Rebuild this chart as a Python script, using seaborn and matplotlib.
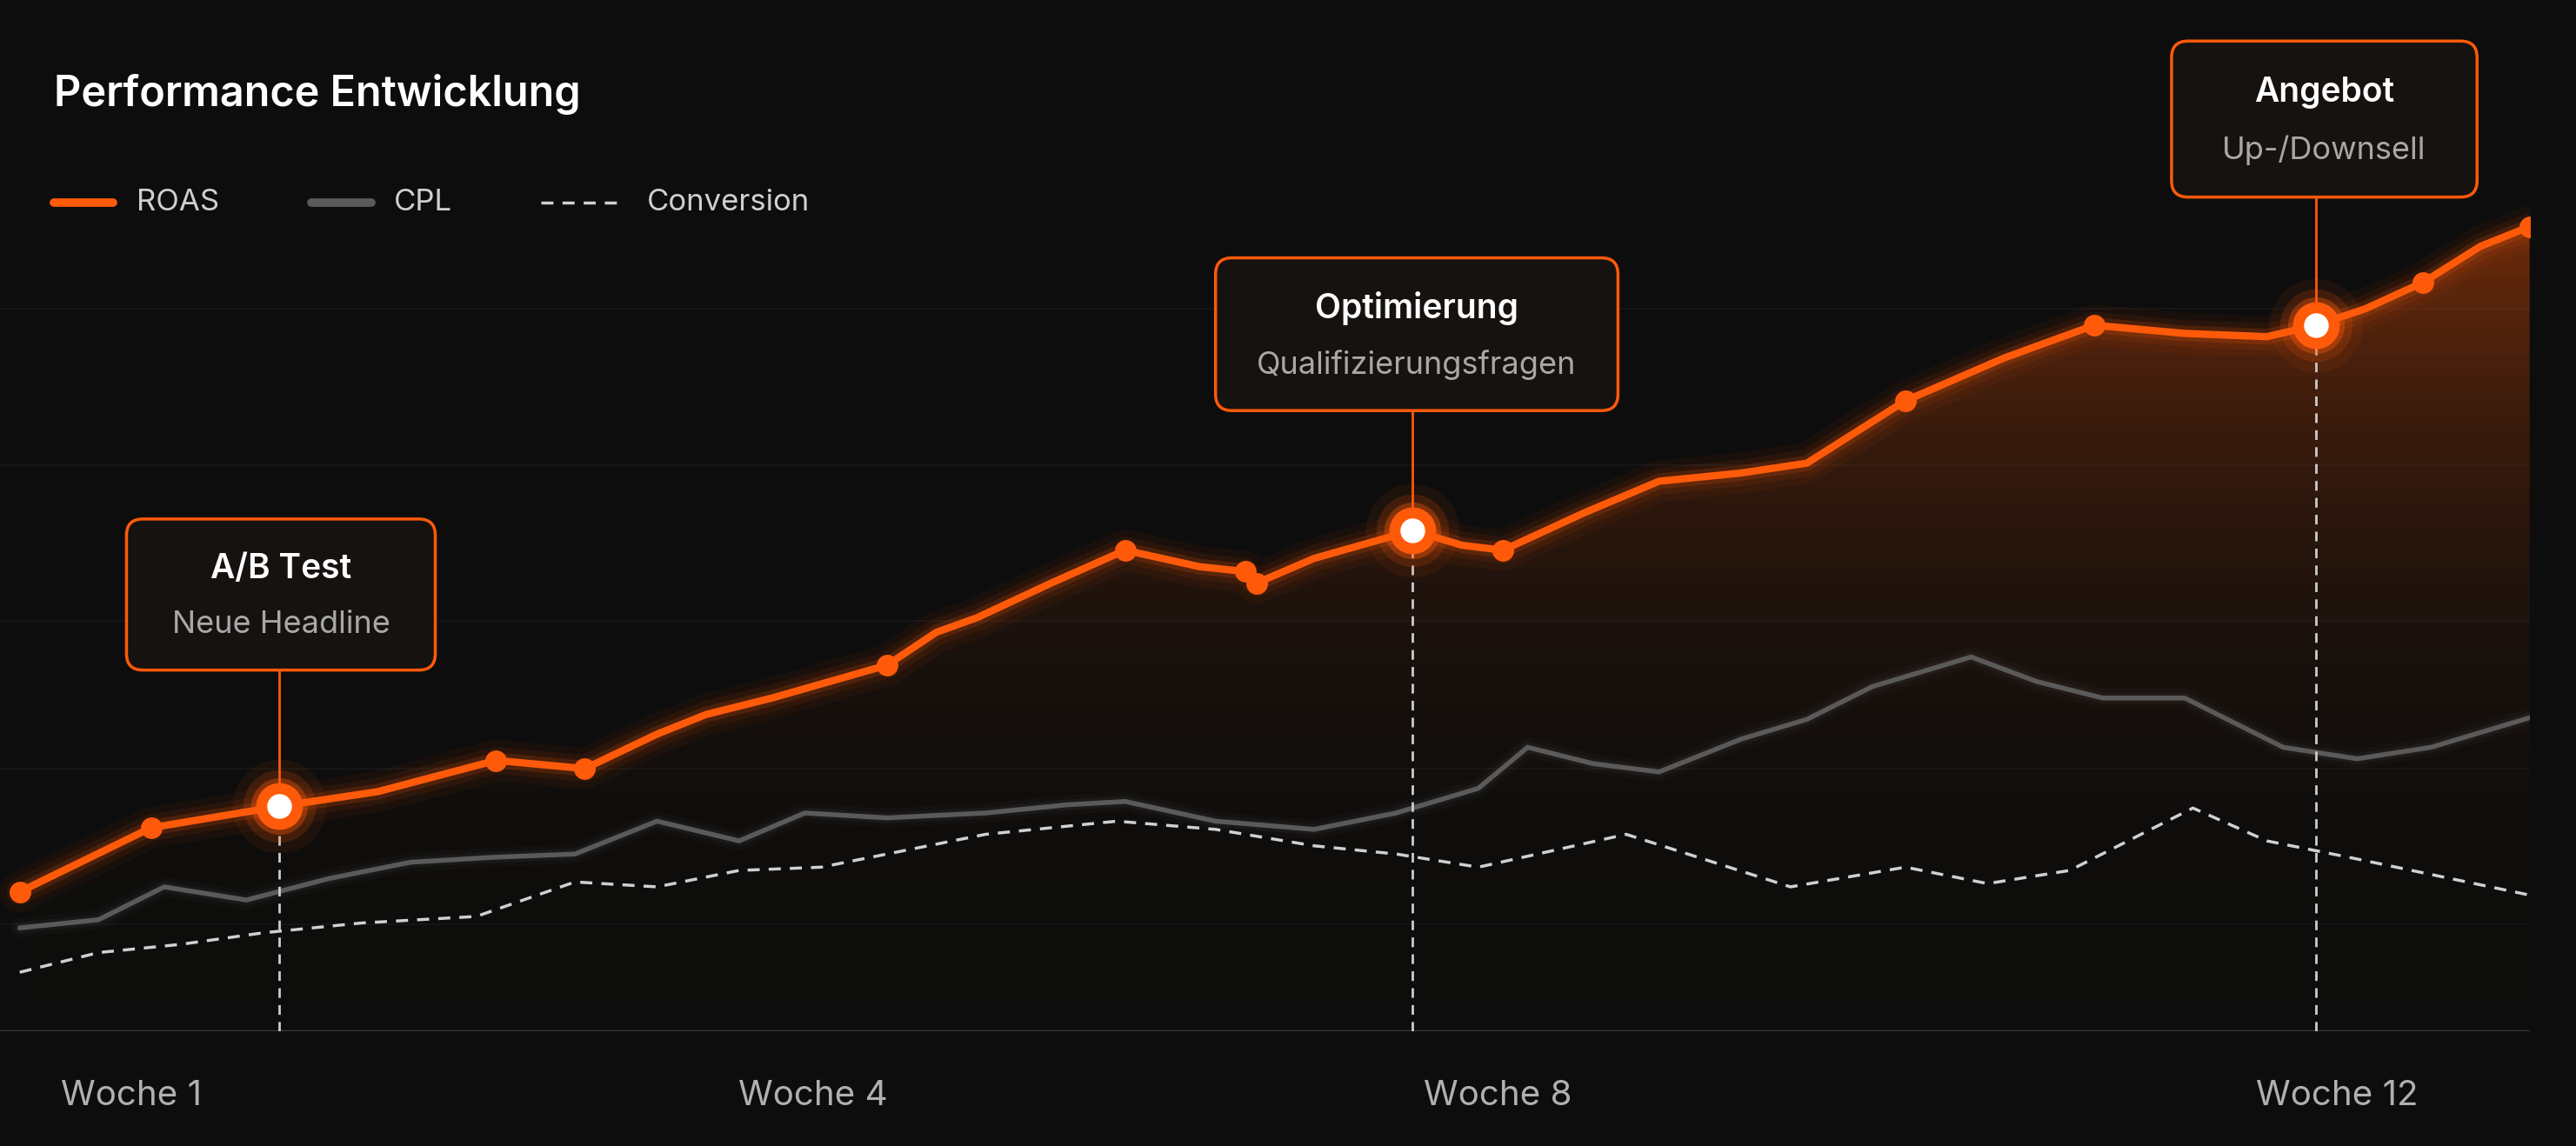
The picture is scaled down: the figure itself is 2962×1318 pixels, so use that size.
import numpy as np
import matplotlib.pyplot as plt
import seaborn as sns
from matplotlib.patches import FancyBboxPatch
from matplotlib.colors import LinearSegmentedColormap

# data (x in chart units, y = height above baseline)
roas_x = [12, 92, 170, 230, 302, 356, 400, 430, 470, 540, 570, 595, 640, 685, 730, 758, 765, 800, 860, 890, 915, 965, 1010, 1060, 1100, 1160, 1220, 1275, 1330, 1380, 1410, 1440, 1475, 1510, 1540]
roas_y = [85, 124, 137, 146, 165, 160, 181, 193, 203, 223, 243, 252, 273, 293, 283, 280, 273, 288, 305, 296, 293, 316, 335, 340, 346, 384, 410, 430, 425, 423, 430, 440, 456, 478, 490]
cpl_x = [12, 60, 100, 150, 200, 250, 300, 350, 400, 450, 490, 540, 600, 650, 685, 740, 800, 850, 900, 930, 970, 1010, 1060, 1100, 1140, 1200, 1240, 1280, 1330, 1390, 1435, 1480, 1540]
cpl_y = [63, 68, 88, 80, 93, 103, 106, 108, 128, 116, 133, 130, 133, 138, 140, 128, 123, 133, 148, 173, 163, 158, 178, 190, 210, 228, 213, 203, 203, 173, 166, 173, 191]
conv_x = [12, 60, 110, 160, 220, 290, 350, 400, 450, 500, 550, 600, 680, 740, 800, 850, 900, 990, 1090, 1160, 1210, 1260, 1335, 1380, 1430, 1540]
conv_y = [36, 48, 53, 60, 66, 70, 91, 88, 98, 100, 110, 120, 128, 123, 113, 108, 100, 120, 88, 100, 90, 98, 136, 116, 106, 83]
tick_pos = [80, 495, 912, 1423]
tick_labels = ["Woche 1", "Woche 4", "Woche 8", "Woche 12"]
events_x = [170, 860, 1410]
events_y = [137, 305, 430]
event_titles = ["A/B Test", "Optimierung", "Angebot"]
event_subs = ["Neue Headline", "Qualifizierungsfragen", "Up-/Downsell"]
small_dots = [12, 92, 302, 356, 540, 685, 758, 765, 915, 1160, 1275, 1475, 1540]

ORANGE = "#ff5a0a"
BG = "#0d0d0d"

sns.set_theme(style="dark")
plt.rcParams['font.family'] = ['Inter', 'DejaVu Sans']

fig = plt.figure(figsize=(29.62, 13.18), dpi=100, facecolor=BG)
ax = fig.add_axes([0, 0.1, 0.982, 0.9])
ax.set_facecolor(BG)
ax.set_xlim(0, 1540)
ax.set_ylim(0, 628)
for s in ax.spines.values():
    s.set_visible(False)

for gy in [65, 160, 250, 345, 440]:
    ax.axhline(gy, color="#151515", lw=1.5, zorder=0)
ax.axhline(0, color="#3a3a3a", lw=2.5, zorder=1)

# gradient fill under ROAS
grad = np.linspace(0, 1, 256).reshape(-1, 1) ** 1.3
cmap = LinearSegmentedColormap.from_list("g", [(0.05, 0.05, 0.05, 0), (1, 0.35, 0.04, 0.42)])
im = ax.imshow(grad, extent=[0, 1540, 0, 500], origin="lower", aspect="auto", cmap=cmap, zorder=1)
poly = ax.fill_between(roas_x, roas_y, 0, color="none")
im.set_clip_path(poly.get_paths()[0], transform=ax.transData)

# CPL and conversion
for w, a in [(16, 0.04), (9, 0.07)]:
    sns.lineplot(x=cpl_x, y=cpl_y, ax=ax, color="#888888", lw=w, alpha=a, zorder=2)
sns.lineplot(x=cpl_x, y=cpl_y, ax=ax, color="#5a5a5a", lw=4, zorder=3)
ax.plot(conv_x, conv_y, color="#d0d0d0", lw=2.5, ls=(0, (4, 3)), zorder=3)

# ROAS with glow
for w, a in [(34, 0.05), (22, 0.08), (13, 0.16)]:
    ax.plot(roas_x, roas_y, color=ORANGE, lw=w, alpha=a, solid_capstyle="round", zorder=4)
ax.plot(roas_x, roas_y, color=ORANGE, lw=6, zorder=5)
dot_y = np.interp(small_dots, roas_x, roas_y)
ax.scatter(small_dots, dot_y, s=320, color=ORANGE, zorder=6, linewidths=0)

# events
boxes = [(77, 220, 188, 92), (740, 378, 245, 93), (1322, 508, 186, 95)]
for ex, ey, t, sub, (bx, by, bw, bh) in zip(events_x, events_y, event_titles, event_subs, boxes):
    ax.plot([ex, ex], [0, ey], color="#cccccc", lw=2, ls=(0, (4, 3)), zorder=3)
    ax.plot([ex, ex], [ey, by], color=ORANGE, lw=2, zorder=3)
    for s, a in [(6000, 0.07), (3600, 0.16), (2200, 0.35)]:
        ax.scatter([ex], [ey], s=s, color=ORANGE, alpha=a, zorder=7, linewidths=0)
    ax.scatter([ex], [ey], s=1500, color=ORANGE, zorder=8, linewidths=0)
    ax.scatter([ex], [ey], s=420, color="white", zorder=9, linewidths=0)
    ax.add_patch(FancyBboxPatch((bx, by), bw, bh, boxstyle="round,pad=0,rounding_size=10",
                                fc="#161210", ec=ORANGE, lw=2.5, zorder=10))
    ax.text(bx + bw / 2, by + bh * 0.67, t, ha="center", va="center", color="white",
            fontsize=28, fontweight="semibold", zorder=11)
    ax.text(bx + bw / 2, by + bh * 0.30, sub, ha="center", va="center", color="#a8a8a8",
            fontsize=26, zorder=11)

ax.set_xticks(tick_pos)
ax.set_xticklabels(tick_labels, color="#b0b0b0", fontsize=29)
ax.tick_params(axis="x", length=0, pad=40)
ax.set_yticks([])
ax.set_xlabel("")

# title and legend
fig.text(0.021, 0.918, "Performance Entwicklung", color="white", fontsize=35,
         fontweight="semibold", va="center")
ly = 0.823
fig.add_artist(plt.Line2D([0.021, 0.044], [ly, ly], color=ORANGE, lw=7))
fig.text(0.053, ly, "ROAS", color="#cfcfcf", fontsize=25, va="center")
fig.add_artist(plt.Line2D([0.121, 0.144], [ly, ly], color="#5a5a5a", lw=7))
fig.text(0.153, ly, "CPL", color="#cfcfcf", fontsize=25, va="center")
fig.add_artist(plt.Line2D([0.210, 0.240], [ly, ly], color="#d0d0d0", lw=2.5, ls=(0, (4, 3))))
fig.text(0.251, ly, "Conversion", color="#cfcfcf", fontsize=25, va="center")

fig.savefig("out.png", dpi=100, facecolor=BG)
